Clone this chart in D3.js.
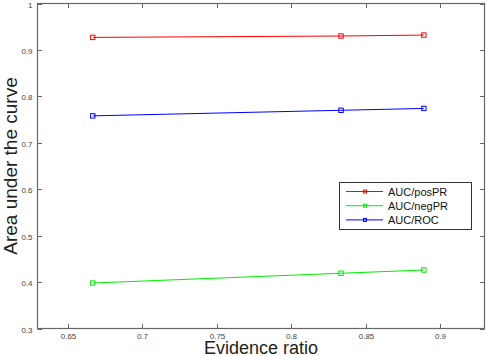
<!DOCTYPE html>
<html lang="en">
<head>
<meta charset="UTF-8">
<title>AUC vs evidence ratio</title>
<style>
  body { margin: 0; background: #fff; }
  svg { display: block; font-family: "Liberation Sans", Arial, sans-serif; }
</style>
</head>
<body>
<svg id="chart" width="488" height="356"></svg>
<script src="https://d3js.org/d3.v7.min.js"></script>
<script>

var evidence = [0.6667, 0.8333, 0.8889];
var posPR = [0.927, 0.930, 0.932];
var negPR = [0.398, 0.419, 0.426];
var roc = [0.758, 0.770, 0.774];
var xTicks = [0.65, 0.7, 0.75, 0.8, 0.85, 0.9];
var yTicks = [0.3, 0.4, 0.5, 0.6, 0.7, 0.8, 0.9, 1];
var seriesNames = ["AUC/posPR", "AUC/negPR", "AUC/ROC"];

var colours = ["#ff0000", "#00ee00", "#0000ff"];
var series = [posPR, negPR, roc];

var svg = d3.select("#chart"),
    plotL = 37.5, plotR = 484.5, plotT = 3.5, plotB = 328.5;

var x = d3.scaleLinear().domain([0.6296, 0.9296]).range([plotL, plotR]);
var y = d3.scaleLinear().domain([0.3, 1]).range([plotB, plotT]);

var axisCol = "#666";

// box
svg.append("rect")
  .attr("x", plotL).attr("y", plotT)
  .attr("width", plotR - plotL).attr("height", plotB - plotT)
  .attr("fill", "none").attr("stroke", axisCol).attr("stroke-width", 1.2);

// ticks, inward on all sides
xTicks.forEach(function (t) {
  var px = Math.round(x(t)) + 0.5;
  svg.append("line").attr("x1", px).attr("x2", px).attr("y1", plotB).attr("y2", plotB - 4.5).attr("stroke", axisCol);
  svg.append("line").attr("x1", px).attr("x2", px).attr("y1", plotT).attr("y2", plotT + 4.5).attr("stroke", axisCol);
  svg.append("text").attr("x", px).attr("y", plotB + 10.5)
    .attr("text-anchor", "middle").attr("font-size", 8).attr("fill", "#444")
    .text(d3.format("")(t));
});
yTicks.forEach(function (t) {
  var py = Math.round(y(t)) + 0.5;
  svg.append("line").attr("x1", plotL).attr("x2", plotL + 4.5).attr("y1", py).attr("y2", py).attr("stroke", axisCol);
  svg.append("line").attr("x1", plotR).attr("x2", plotR - 4.5).attr("y1", py).attr("y2", py).attr("stroke", axisCol);
  svg.append("text").attr("x", plotL - 5).attr("y", py + 3)
    .attr("text-anchor", "end").attr("font-size", 8).attr("fill", "#444")
    .text(d3.format("")(t));
});

// lines
var line = d3.line()
  .x(function (d, i) { return x(evidence[i]); })
  .y(function (d) { return y(d); });

series.forEach(function (s, k) {
  svg.append("path").datum(s)
    .attr("d", line).attr("fill", "none")
    .attr("stroke", colours[k]).attr("stroke-width", 1);
  svg.selectAll(null).data(s).enter().append("rect")
    .attr("x", function (d, i) { return x(evidence[i]) - 2.2; })
    .attr("y", function (d) { return y(d) - 2.2; })
    .attr("width", 4.4).attr("height", 4.4)
    .attr("fill", "none").attr("stroke", colours[k]).attr("stroke-width", 1);
});

// legend
var lg = svg.append("g");
lg.append("rect").attr("x", 339.5).attr("y", 182.5).attr("width", 132).attr("height", 47)
  .attr("fill", "#fff").attr("stroke", "#333").attr("stroke-width", 1);
seriesNames.forEach(function (n, k) {
  var ly = 191.5 + k * 14.2;
  lg.append("line").attr("x1", 346).attr("x2", 383).attr("y1", ly).attr("y2", ly)
    .attr("stroke", colours[k]).attr("stroke-width", 1);
  lg.append("rect").attr("x", 363.5).attr("y", ly - 1.5).attr("width", 3).attr("height", 3)
    .attr("fill", "none").attr("stroke", colours[k]).attr("stroke-width", 1);
  lg.append("text").attr("x", 388).attr("y", ly + 4)
    .attr("font-size", 11).attr("fill", "#111").text(n);
});

// axis labels
svg.append("text").attr("x", (plotL + plotR) / 2).attr("y", 353.5)
  .attr("text-anchor", "middle").attr("font-size", 18).attr("fill", "#222")
  .text("Evidence ratio");
svg.append("text")
  .attr("transform", "translate(17," + ((plotT + plotB) / 2) + ") rotate(-90)")
  .attr("text-anchor", "middle").attr("font-size", 19).attr("fill", "#222")
  .text("Area under the curve");

</script>
</body>
</html>
